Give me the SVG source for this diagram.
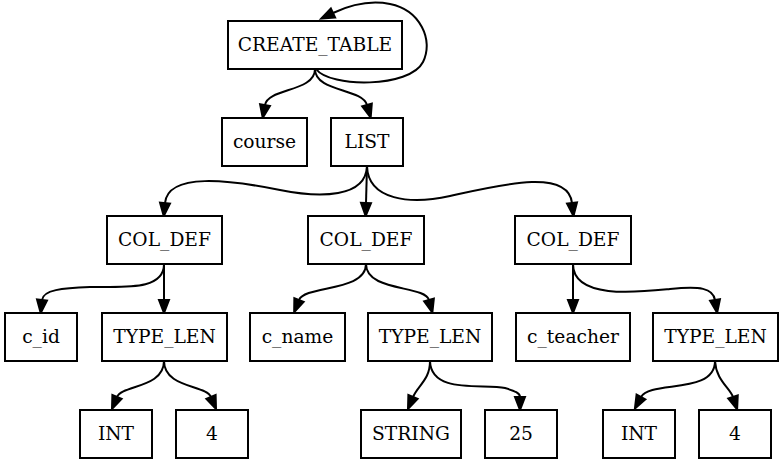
<svg xmlns="http://www.w3.org/2000/svg" width="783" height="465" viewBox="0 0 783 465">
  <style>
    .node rect { fill: #ffffff; stroke: #000000; stroke-width: 2; }
    .node text { font-family: "DejaVu Serif", "Liberation Serif", serif; font-size: 18.67px; fill: #000000; text-anchor: middle; }
    .edge { fill: none; stroke: #000000; stroke-width: 2; marker-end: url(#arrow); }
  </style>
  <defs>
    <marker id="arrow" markerUnits="userSpaceOnUse" markerWidth="20" markerHeight="20" refX="0" refY="0" orient="auto" overflow="visible">
      <path d="M0,-5 L13,0 L0,5 Z" fill="#000000" stroke="#000000" stroke-width="2" stroke-linejoin="miter"/>
    </marker>
  </defs>
  <rect width="783" height="465" fill="#ffffff"/>

  <!-- connectors -->
  <g id="edges">
    <path class="edge" d="M316,69 C330,88 410,88 423,62 C434,40 420,10 390,4 C370,0 350,5 333,13"/>
    <path class="edge" d="M315,69 C315,92 268,88 265,105"/>
    <path class="edge" d="M315,69 C315,92 362,88 367,105"/>
    <path class="edge" d="M367,166 C366,198 320,198 280,190 C230,180 168,172 165,203"/>
    <path class="edge" d="M367,166 L366,203"/>
    <path class="edge" d="M367,166 C368,200 410,205 450,196 C500,185 568,168 572,203"/>
    <path class="edge" d="M164,264 C164,292 120,286 90,287 C62,288 43,290 42,300"/>
    <path class="edge" d="M164,264 L164,300"/>
    <path class="edge" d="M366,264 C366,292 305,285 299,300"/>
    <path class="edge" d="M366,264 C366,292 425,285 429,300"/>
    <path class="edge" d="M573,264 L573,300"/>
    <path class="edge" d="M573,264 C573,300 640,292 670,289 C700,286 713,288 715,300"/>
    <path class="edge" d="M164,361 C164,388 122,385 117,397"/>
    <path class="edge" d="M164,361 C164,388 206,385 211,397"/>
    <path class="edge" d="M430,361 C430,380 418,385 413,397"/>
    <path class="edge" d="M430,361 C431,395 485,383 505,388 C515,391 520,393 520,397"/>
    <path class="edge" d="M715,361 C715,395 650,380 641,397"/>
    <path class="edge" d="M715,361 C716,380 730,388 733,397"/>
  </g>

  <!-- nodes -->
  <g id="create_table" class="node"><rect x="228" y="21" width="174" height="48"/><text x="315" y="51">CREATE_TABLE</text></g>
  <g id="course" class="node"><rect x="222" y="118" width="85" height="48"/><text x="264.5" y="148">course</text></g>
  <g id="list" class="node"><rect x="331" y="118" width="72" height="48"/><text x="367" y="148">LIST</text></g>

  <g id="col_def_1" class="node"><rect x="107" y="216" width="115" height="48"/><text x="164.5" y="246">COL_DEF</text></g>
  <g id="col_def_2" class="node"><rect x="308" y="216" width="116" height="48"/><text x="366" y="246">COL_DEF</text></g>
  <g id="col_def_3" class="node"><rect x="515" y="216" width="116" height="48"/><text x="573" y="246">COL_DEF</text></g>

  <g id="c_id" class="node"><rect x="5" y="313" width="72" height="48"/><text x="41" y="343">c_id</text></g>
  <g id="type_len_1" class="node"><rect x="102" y="313" width="125" height="48"/><text x="164.5" y="343">TYPE_LEN</text></g>
  <g id="c_name" class="node"><rect x="250" y="313" width="95" height="48"/><text x="297.5" y="343">c_name</text></g>
  <g id="type_len_2" class="node"><rect x="368" y="313" width="124" height="48"/><text x="430" y="343">TYPE_LEN</text></g>
  <g id="c_teacher" class="node"><rect x="516" y="313" width="114" height="48"/><text x="573" y="343">c_teacher</text></g>
  <g id="type_len_3" class="node"><rect x="653" y="313" width="125" height="48"/><text x="715.5" y="343">TYPE_LEN</text></g>

  <g id="int_1" class="node"><rect x="80" y="410" width="72" height="48"/><text x="116" y="440">INT</text></g>
  <g id="len_4_1" class="node"><rect x="176" y="410" width="72" height="48"/><text x="212" y="440">4</text></g>
  <g id="string" class="node"><rect x="361" y="410" width="100" height="48"/><text x="411" y="440">STRING</text></g>
  <g id="len_25" class="node"><rect x="485" y="410" width="72" height="48"/><text x="521" y="440">25</text></g>
  <g id="int_3" class="node"><rect x="603" y="410" width="72" height="48"/><text x="639" y="440">INT</text></g>
  <g id="len_4_3" class="node"><rect x="699" y="410" width="72" height="48"/><text x="735" y="440">4</text></g>
</svg>
